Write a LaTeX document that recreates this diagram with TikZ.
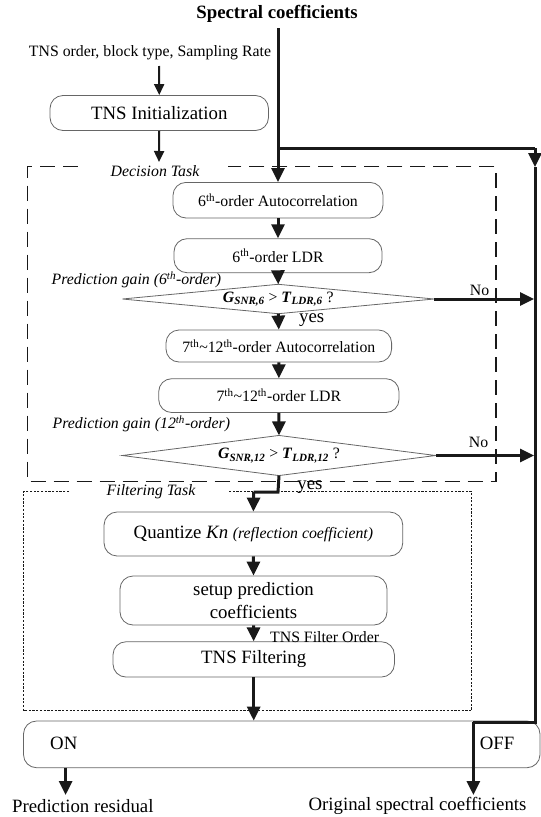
\documentclass[tikz,border=0pt]{standalone}
\usepackage{fontspec}
\setmainfont{Liberation Serif}
\usetikzlibrary{arrows.meta}
\newcommand\szS{\fontsize{15.8}{18}\selectfont}
\newcommand\szL{\fontsize{18.8}{23}\selectfont}
\newcommand\bi[1]{\textbf{\textit{#1}}}
\begin{document}
\begin{tikzpicture}[x=1pt,y=-1pt,
  box/.style={draw=black!60,line width=0.8pt,rounded corners=13pt,inner sep=0pt,align=center,font=\szS},
  dbox/.style={draw=none,inner sep=0pt,align=center,font=\szS},
  lbl/.style={inner sep=0pt,font=\szS},
  lblL/.style={inner sep=0pt,font=\szL},
  flow/.style={line width=3pt,draw=black!90,-{Triangle[width=13pt,length=14pt]}},
  flowline/.style={line width=3pt,draw=black!90},
  thinflow/.style={line width=2pt,draw=black!90,-{Triangle[width=10pt,length=11pt]}},
  dashedframe/.style={draw=black!90,line width=1.5pt,dash pattern=on 15pt off 8pt},
  dottedframe/.style={draw=black!90,line width=1.4pt,dash pattern=on 2.2pt off 1.5pt},
  diaedge/.style={draw=black!60,line width=0.8pt}
]
\useasboundingbox (0,0) rectangle (541,817);

% texts
\node[lblL,font=\szL\bfseries] (title) at (277,14) {Spectral coefficients};
\node[lbl] (params) at (150,53) {TNS order, block type, Sampling Rate};
\node[lbl,font=\szS\itshape] (dtask) at (155,171) {Decision Task};
\node[lbl,font=\szS\itshape] (ftask) at (151,492) {Filtering Task};
\node[lbl,font=\szS\itshape] (pg6) at (136.4,280) {Prediction gain (6\textsuperscript{th}-order)};
\node[lbl,font=\szS\itshape] (pg12) at (141.4,423.5) {Prediction gain (12\textsuperscript{th}-order)};

% frames
\draw[dashedframe] (77.6,166.5) -- (27.6,166.5) -- (27.6,481.5) -- (496,481.5) -- (496,166.5) -- (227.7,166.5);
\draw[dottedframe] (69,491.4) -- (23.5,491.4) -- (23.5,710.7) -- (471.7,710.7) -- (471.7,491.4) -- (227.7,491.4);

% boxes
\node[box,font=\szL,minimum width=218.5pt,minimum height=35pt] (init) at (159.25,113) {TNS Initialization};
\node[box,minimum width=210pt,minimum height=35.6pt] (auto6) at (278,200.2) {6\textsuperscript{th}-order Autocorrelation};
\node[box,minimum width=208pt,minimum height=34pt] (ldr6) at (278,255.7) {6\textsuperscript{th}-order LDR};
\node[dbox,minimum width=311.5pt,minimum height=29pt] (d1) at (278.25,299) {\bi{G}\textsubscript{\bi{SNR,6}} > \bi{T}\textsubscript{\bi{LDR,6}} ?};
\draw[diaedge] (d1.west) -- (d1.north) -- (d1.east) -- (d1.south) -- cycle;
\node[box,minimum width=225.6pt,minimum height=32pt] (auto7) at (278.8,346) {7\textsuperscript{th}\textasciitilde12\textsuperscript{th}-order Autocorrelation};
\node[box,minimum width=240.3pt,minimum height=33.8pt] (ldr7) at (278.85,395.6) {7\textsuperscript{th}\textasciitilde12\textsuperscript{th}-order LDR};
\node[dbox,minimum width=313pt,minimum height=39.7pt] (d2) at (279,455.5) {\bi{G}\textsubscript{\bi{SNR,12}} > \bi{T}\textsubscript{\bi{LDR,12}} ?};
\draw[diaedge] (d2.west) -- (d2.north) -- (d2.east) -- (d2.south) -- cycle;
\node[box,font=\szL,minimum width=298.7pt,minimum height=44pt] (quant) at (253.4,534) {Quantize \textit{Kn} {\szS\itshape (reflection coefficient)}};
\node[box,font=\szL,minimum width=267pt,minimum height=49pt] (setup) at (253.5,600.5) {setup prediction\\coefficients};
\node[box,font=\szL,minimum width=281.4pt,minimum height=35.3pt] (filt) at (253.7,659.4) {TNS Filtering};
\node[box,font=\szL,minimum width=516.5pt,minimum height=46.7pt] (onoff) at (281.75,744.35) {};
\node[lblL] (on) at (63.8,743.5) {ON};
\node[lblL] (off) at (497,743.5) {OFF};
\node[lblL] (res) at (82.8,806) {Prediction residual};
\node[lblL] (orig) at (417.5,806) {Original spectral coefficients};

% small labels
\node[lbl] (no1) at (479.5,290) {No};
\node[lbl] (no2) at (478.5,442.5) {No};
\node[lblL] (yes1) at (311.7,320) {yes};
\node[lblL] (yes2) at (310,487) {yes};
\node[lbl,anchor=west] (tfo) at (270,637) {TNS Filter Order};

% coordinates
\coordinate (top) at (278,28);
\coordinate (br) at (278,148);
\coordinate (rbr) at (535,148);
\coordinate (rtip) at (535,167);
\coordinate (rlow) at (535,722);
\coordinate (offk) at (473.4,722);
\coordinate (offtip) at (473.4,795);
\coordinate (ontip) at (65.6,795);
\coordinate (ontop) at (65.6,767.7);
\coordinate (ptip) at (159,162);
\coordinate (pstart) at (159,66);
\coordinate (no1e) at (534,299);
\coordinate (no2e) at (534,455.5);
\coordinate (yk1) at (278,492);
\coordinate (yk2) at (253.6,492);

% connectors
\draw[thinflow] (pstart) -- (init.north);
\draw[thinflow] (init.south) -- (ptip);
\draw[flow] (top) -- (auto6.north);
\draw[flowline] (br) -- (rbr);
\draw[flow] (rbr) -- (rtip);
\draw[flowline] (rtip) -- (rlow) -- (offk);
\draw[flow] (offk) -- (offtip);
\draw[flow] (auto6.south) -- (ldr6.north);
\draw[flow] (ldr6.south) -- (d1.north);
\draw[flow] (d1.east) -- (no1e);
\draw[flow] (d1.south) -- (auto7.north);
\draw[flow] (auto7.south) -- (ldr7.north);
\draw[flow] (ldr7.south) -- (d2.north);
\draw[flow] (d2.east) -- (no2e);
\draw[flowline] (d2.south) -- (yk1) -- (yk2);
\draw[flow] (yk2) -- (quant.north);
\draw[flow] (quant.south) -- (setup.north);
\draw[flow] (setup.south) -- (filt.north);
\draw[flow] (filt.south) -- (filt.south |- onoff.north);
\draw[flow] (ontop) -- (ontip);
\end{tikzpicture}
\end{document}
